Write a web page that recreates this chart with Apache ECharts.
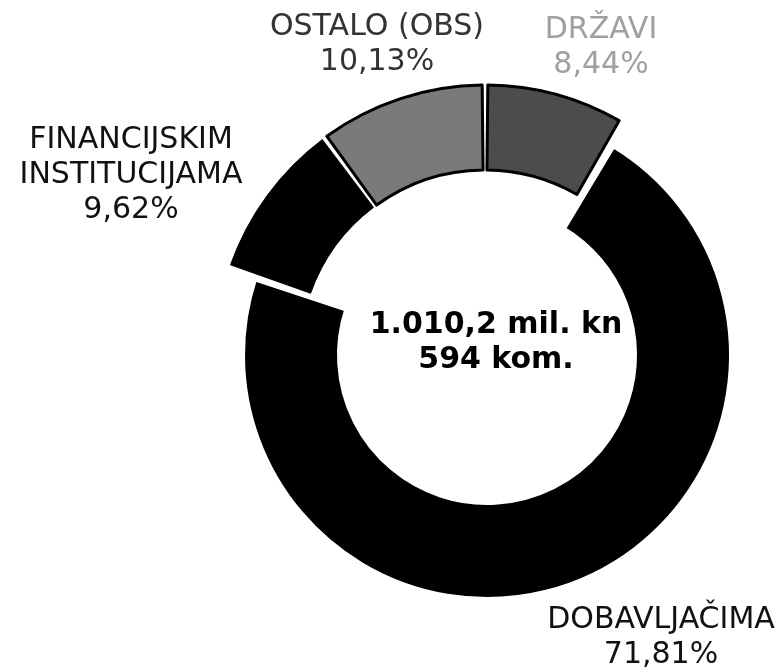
<!DOCTYPE html>
<html>
<head>
<meta charset="utf-8">
<script src="https://cdn.jsdelivr.net/npm/echarts@6/dist/echarts.min.js"></script>
<style>
  html, body { margin: 0; background: #fff; }
  #chart { width: 783px; height: 672px; }
</style>
</head>
<body>
<div id="chart"></div>
<script>
// slices, clockwise from 12 o'clock
const names = ['DRŽAVI', 'DOBAVLJAČIMA', 'FINANCIJSKIM\nINSTITUCIJAMA', 'OSTALO (OBS)']
const shares = [8.44, 71.81, 9.62, 10.13]
const totalLines = ['1.010,2 mil. kn', '594 kom.']
// the small slices are drawn pulled out on a wider ring
const pulled = [true, false, true, true]

const sliceColors = ['#4c4c4c', '#000000', '#000000', '#7a7a7a']
// white stroke on the big slice opens the gaps to its neighbours
const sliceBorders = [['#000', 3], ['#fff', 6], ['#000', 1], ['#000', 3]]
const labelColors = ['#a0a0a0', '#111111', '#111111', '#333333']
const labelPos = [[601, 48], [661, 638], [131, 175], [377, 45]]

const fmtPct = v => v.toFixed(2).replace('.', ',') + '%'

const ring = (outer, radius, center) => ({
  type: 'pie',
  radius,
  center,
  startAngle: 90,
  clockwise: true,
  padAngle: 1.2,
  silent: true,
  avoidLabelOverlap: false,
  label: {
    show: true,
    formatter: p => p.name + '\n' + fmtPct(p.value),
    fontFamily: 'DejaVu Sans',
    fontSize: 30,
    lineHeight: 35,
    align: 'center'
  },
  labelLine: { show: false },
  labelLayout: p => ({
    x: labelPos[p.dataIndex][0],
    y: labelPos[p.dataIndex][1],
    align: 'center',
    verticalAlign: 'middle'
  }),
  data: names.map((name, i) => {
    const on = pulled[i] === outer
    return {
      name,
      value: shares[i],
      itemStyle: on
        ? { color: sliceColors[i], borderColor: sliceBorders[i][0], borderWidth: sliceBorders[i][1] }
        : { color: 'rgba(0,0,0,0)', borderWidth: 0 },
      label: on ? { color: labelColors[i] } : { show: false }
    }
  })
})

const chart = echarts.init(document.getElementById('chart'))
chart.setOption({
  backgroundColor: '#fff',
  animation: false,
  graphic: [{
    type: 'text',
    x: 496,
    y: 343,
    style: {
      text: totalLines.join('\n'),
      font: 'bold 30px "DejaVu Sans"',
      fill: '#000',
      align: 'center',
      textAlign: 'center',
      verticalAlign: 'middle',
      textVerticalAlign: 'middle',
      lineHeight: 35
    }
  }],
  series: [
    ring(false, [147, 245], [487, 355]),
    ring(true, [185, 270], [485, 355])
  ]
})
</script>
</body>
</html>
